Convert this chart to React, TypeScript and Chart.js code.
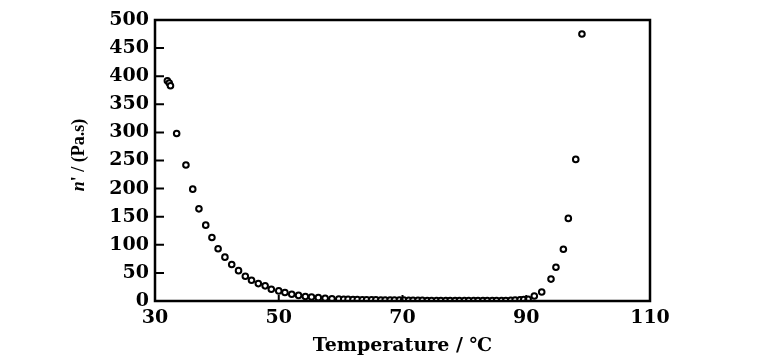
import { useEffect, useRef } from "react";
import { Chart, registerables } from "chart.js";

Chart.register(...registerables);

// Temperature (°C) of each measured point
const temperature = [
  32.0, 32.3, 32.5, 33.5, 35.0, 36.1, 37.1, 38.2, 39.2, 40.2, 41.3, 42.4, 43.5, 44.6, 45.6,
  46.7, 47.8, 48.8, 50.0, 51.0, 52.1, 53.2, 54.3, 55.3, 56.4, 57.5, 58.6, 59.7,
  60.5, 61.2, 62.0, 62.7, 63.5, 64.2, 65.0, 65.7, 66.5, 67.2, 68.0, 68.7, 69.5, 70.2,
  71.0, 71.7, 72.5, 73.2, 74.0, 74.7, 75.5, 76.2, 77.0, 77.7, 78.5, 79.2, 80.0, 80.7,
  81.5, 82.2, 83.0, 83.7, 84.5, 85.2, 86.0, 86.7, 87.5, 88.2, 89.0, 89.6, 90.3,
  91.3, 92.5, 94.0, 94.8, 96.0, 96.8, 98.0, 99.0,
];
// Viscosity n' (Pa.s)
const viscosity = [
  392, 388, 383, 298, 242, 199, 164, 135, 113, 93, 78, 65, 54, 44, 37,
  31, 27, 21, 18, 15, 12, 10, 8, 7, 6, 5, 4, 3.5,
  3, 3, 2.5, 2.5, 2, 2, 2, 2, 1.8, 1.5, 1.5, 1.5, 1.5, 1.5,
  1.2, 1.2, 1.2, 1.2, 1, 1, 1, 1, 1, 1, 1, 1, 1, 1,
  1, 1, 1, 1, 1, 1, 1, 1, 1.2, 1.5, 2, 2.5, 3,
  9, 16, 39, 60, 92, 147, 252, 475,
];
const xTicks = [30, 50, 70, 90, 110];
const xInnerTicks = [50, 70, 90];
const yTicks = [0, 50, 100, 150, 200, 250, 300, 350, 400, 450, 500];

const xTitle = "Temperature / \u2103";
const yTitleItalic = "n";
const yTitleRest = "' / (Pa.s)";

const tickFont = { family: "'DejaVu Serif', serif", size: 19, weight: "bold" as const };

const framePlugin = {
  id: "frame",
  afterDraw(chart: any) {
    const { ctx, chartArea } = chart;
    const { left, right, top, bottom } = chartArea;
    const xs = chart.scales.x;
    const ys = chart.scales.y;
    ctx.save();
    ctx.strokeStyle = "#000";
    ctx.lineWidth = 2.5;
    ctx.strokeRect(left, top, right - left, bottom - top);
    ctx.lineWidth = 2;
    ctx.beginPath();
    for (const v of yTicks) {
      const y = ys.getPixelForValue(v);
      ctx.moveTo(left, y);
      ctx.lineTo(left + 9, y);
    }
    for (const v of xInnerTicks) {
      const x = xs.getPixelForValue(v);
      ctx.moveTo(x, bottom);
      ctx.lineTo(x, bottom - 6);
    }
    ctx.stroke();

    // x title
    ctx.fillStyle = "#000";
    ctx.font = "bold 19px 'DejaVu Serif', serif";
    ctx.textAlign = "center";
    ctx.textBaseline = "middle";
    ctx.fillText(xTitle, (left + right) / 2, 346);

    // y title (rotated)
    ctx.translate(79, 155);
    ctx.rotate(-Math.PI / 2);
    ctx.textBaseline = "middle";
    ctx.textAlign = "left";
    const fItalic = "italic bold 18px 'Liberation Serif', serif";
    const fRest = "bold 18px 'Liberation Serif', serif";
    ctx.font = fItalic;
    const w1 = ctx.measureText(yTitleItalic).width;
    ctx.font = fRest;
    const w2 = ctx.measureText(yTitleRest).width;
    const start = -(w1 + w2) / 2;
    ctx.font = fItalic;
    ctx.fillText(yTitleItalic, start, 0);
    ctx.font = fRest;
    ctx.fillText(yTitleRest, start + w1, 0);
    ctx.restore();
  },
};

export default function App() {
  const ref = useRef<HTMLCanvasElement | null>(null);
  useEffect(() => {
    document.body.style.margin = "0";
    const canvas = ref.current!;
    const chart = new Chart(canvas, {
      type: "scatter",
      data: {
        datasets: [
          {
            data: temperature.map((t, i) => ({ x: t, y: viscosity[i] })),
            pointStyle: "circle",
            pointRadius: 2.8,
            pointBorderWidth: 2,
            pointBorderColor: "#000",
            pointBackgroundColor: "#fff",
            showLine: false,
          },
        ],
      },
      options: {
        animation: false,
        responsive: false,
        maintainAspectRatio: false,
        layout: { padding: { left: 0, right: 121, top: 20, bottom: 0 } },
        plugins: { legend: { display: false }, tooltip: { enabled: false } },
        scales: {
          x: {
            type: "linear",
            min: 30,
            max: 110,
            afterBuildTicks: (s: any) => {
              s.ticks = xTicks.map((v) => ({ value: v }));
            },
            afterFit: (s: any) => {
              s.height = 57;
            },
            grid: { display: false, drawTicks: false },
            border: { display: false },
            ticks: { font: tickFont, color: "#000", padding: 6, maxRotation: 0 },
          },
          y: {
            type: "linear",
            min: 0,
            max: 500,
            afterBuildTicks: (s: any) => {
              s.ticks = yTicks.map((v) => ({ value: v }));
            },
            afterFit: (s: any) => {
              s.width = 155;
            },
            grid: { display: false, drawTicks: false },
            border: { display: false },
            ticks: { font: tickFont, color: "#000", padding: 6 },
          },
        },
      },
      plugins: [framePlugin],
    });
    return () => chart.destroy();
  }, []);
  return (
    <div style={{ width: 771, height: 358, background: "#fff" }}>
      <canvas ref={ref} width={771} height={358} style={{ width: 771, height: 358 }} />
    </div>
  );
}
